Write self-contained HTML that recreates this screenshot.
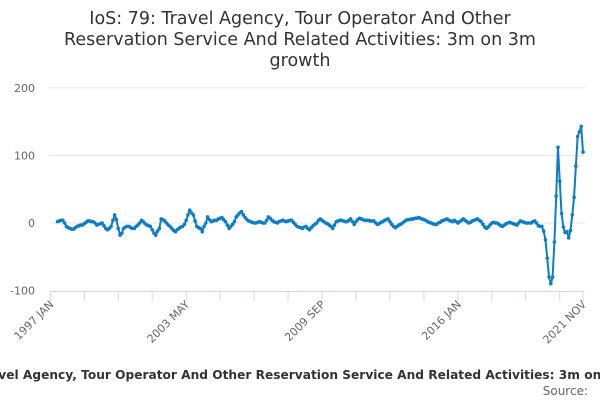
<!DOCTYPE html>
<html><head><meta charset="utf-8"><style>
body{margin:0;background:#fff;}
svg{display:block;font-family:"DejaVu Sans","Liberation Sans",sans-serif;}
</style></head><body>
<svg id="chart" width="600" height="400" viewBox="0 0 600 400">
<g font-size="17.5" fill="#333" text-anchor="middle">
<text x="300" y="24">IoS: 79: Travel Agency, Tour Operator And Other</text>
<text x="300" y="45">Reservation Service And Related Activities: 3m on 3m</text>
<text x="300" y="66">growth</text>
</g>
<g id="grid"></g>
<g id="yaxis"></g>
<g id="xaxis"></g>
<g id="series"></g>
<text x="300" y="379" text-anchor="middle" font-size="12.2" font-weight="bold" fill="#333">IoS: 79: Travel Agency, Tour Operator And Other Reservation Service And Related Activities: 3m on 3m growth</text>
<text x="588" y="395" text-anchor="end" font-size="12" fill="#666">Source:</text>
</svg>
<script>
const startIndex = 4; // months after 1997 JAN
const values = [2,3,4,4,0,-5,-7,-8,-9,-9,-7,-5,-4,-3,-3,-1,1,3,3,2,2,0,-3,-2,-1,0,-4,-8,-10,-8,-5,4,12,5,-8,-18,-15,-8,-6,-5,-5,-7,-8,-8,-5,-3,0,4,2,-1,-3,-4,-5,-10,-15,-18,-12,-8,6,5,3,0,-3,-5,-8,-11,-13,-10,-8,-6,-5,-2,4,12,19,15,12,3,-5,-7,-8,-13,-5,0,9,5,2,3,4,4,6,7,8,5,2,-3,-8,-5,-2,2,9,12,15,17,12,8,5,3,2,1,0,0,1,2,1,0,0,4,9,7,4,2,1,0,2,3,4,3,2,3,4,4,1,-2,-5,-6,-7,-8,-6,-5,-8,-10,-7,-4,-2,0,4,6,4,2,0,-1,-3,-5,-8,-3,2,3,4,4,3,2,2,4,6,2,-2,2,5,7,6,5,4,4,4,3,3,3,0,-2,-1,1,2,4,5,6,2,-2,-5,-7,-5,-3,-2,0,2,4,5,5,6,6,7,7,8,7,6,5,4,2,1,0,-1,-2,-2,0,1,3,4,5,6,4,3,2,4,2,0,2,4,6,4,2,0,1,3,4,5,6,4,2,-2,-6,-8,-6,-3,0,1,0,0,-2,-4,-5,-3,-1,0,1,0,-1,-2,-3,0,3,2,1,0,0,0,0,2,3,0,-4,-5,
-5,-12,-25,-52,-80,-90,-80,-28,40,112,62,14,-6,-14,-13,-22,-11,12,38,84,128,135,143,105];
const yTicks = [200,100,0,-100];
const xTickMonths = [0,19,38,57,76,95,114,133,152,171,190,209,228,247,266,285,298];
const xLabelMonths = [0,76,152,228,298];
const xLabels = ["1997 JAN","2003 MAY","2009 SEP","2016 JAN","2021 NOV"];

const NS="http://www.w3.org/2000/svg";
const X0=50.3,X1=583,Mmax=298,Y0=223,PPU=0.6755;
const xs=m=>X0+m*(X1-X0)/Mmax;
const ys=v=>Y0-v*PPU;
function mk(tag,attrs,parent){const e=document.createElementNS(NS,tag);for(const k in attrs)e.setAttribute(k,attrs[k]);parent.appendChild(e);return e;}
const grid=document.getElementById('grid'),yax=document.getElementById('yaxis'),xax=document.getElementById('xaxis'),ser=document.getElementById('series');
yTicks.forEach(t=>{
  if(t!==-100){const l=mk('line',{x1:X0,x2:X1+2,y1:ys(t),y2:ys(t),stroke:'#e6e6e6','stroke-width':1},grid);
  
  }
  const tx=mk('text',{x:35,y:ys(t)+4,'text-anchor':'end','font-size':11,fill:'#666'},yax);tx.textContent=t;
  
  
});
const ax=mk('line',{x1:X0,x2:X1+1,y1:291.5,y2:291.5,stroke:'#ccd6eb','stroke-width':1},xax);


xTickMonths.forEach(m=>{const l=mk('line',{x1:xs(m),x2:xs(m),y1:291.5,y2:301,stroke:'#ccd6eb','stroke-width':1},xax);
  
  });
xLabelMonths.forEach((m,i)=>{const x=xs(m)+4,y=305;
  const t=mk('text',{x:x,y:y,'text-anchor':'end','font-size':11,fill:'#666',transform:`rotate(-45 ${x} ${y})`},xax);t.textContent=xLabels[i];
  
  });
const pts=values.map((v,i)=>[xs(startIndex+i),ys(v)]);
const path=mk('path',{d:'M'+pts.map(p=>p[0].toFixed(2)+','+p[1].toFixed(2)).join('L'),fill:'none',stroke:'#0d7dc4','stroke-width':2,'stroke-linejoin':'round'},ser);


pts.forEach(p=>{const c=mk('circle',{cx:p[0],cy:p[1],r:1.8,fill:'#0d7dc4'},ser);
  
  });
</script>
</body></html>
